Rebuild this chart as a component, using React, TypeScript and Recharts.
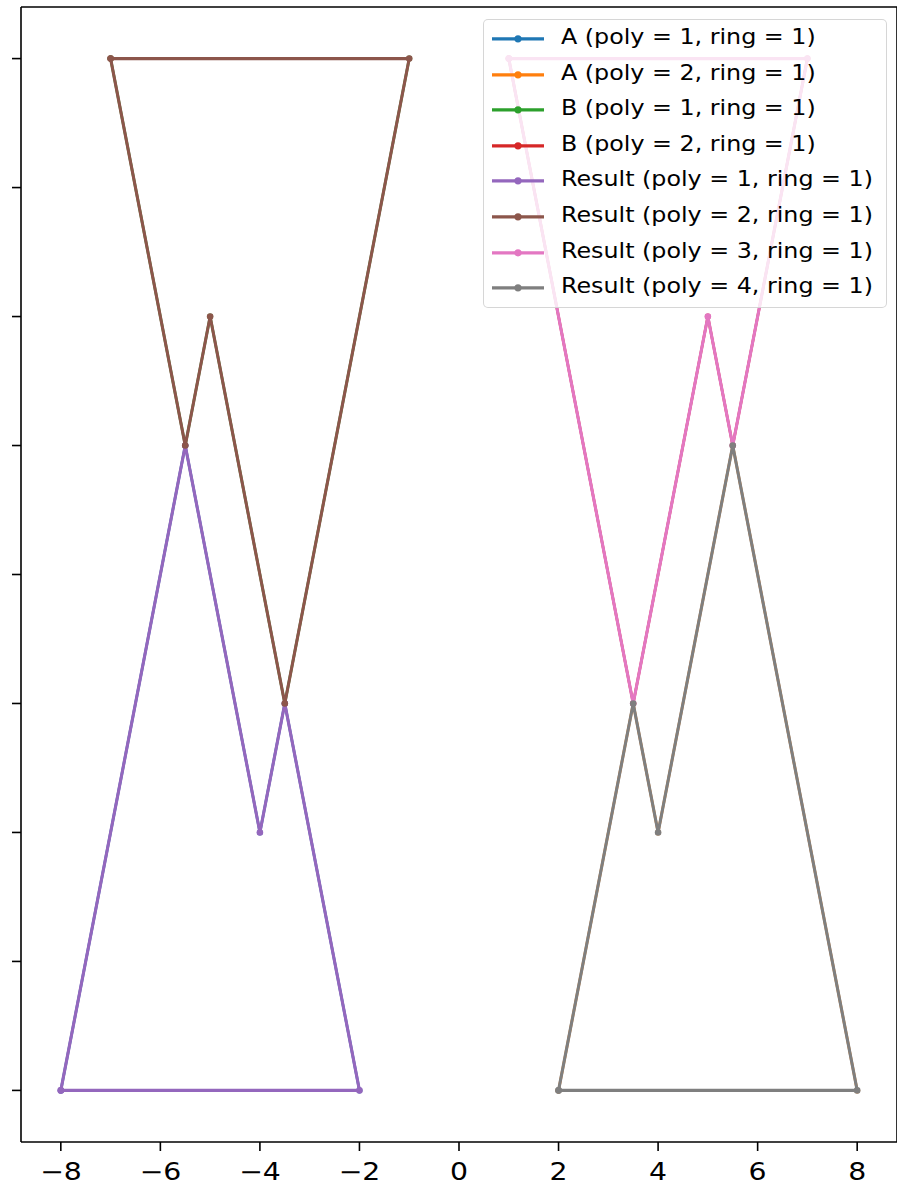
import React from 'react';
import { Legend, ReferenceLine, Scatter, ScatterChart, XAxis, YAxis } from 'recharts';

const xTicks = [-8, -6, -4, -2, 0, 2, 4, 6, 8];
const yTicks = [0, 1, 2, 3, 4, 5, 6, 7, 8];

// polygon rings, first point repeated at the end to close them
const aPoly1 = [
  { x: -8, y: 0 }, { x: -5.5, y: 5 }, { x: -4, y: 2 }, { x: -3.5, y: 3 }, { x: -2, y: 0 }, { x: -8, y: 0 },
];
const aPoly2 = [
  { x: 2, y: 0 }, { x: 3.5, y: 3 }, { x: 4, y: 2 }, { x: 5.5, y: 5 }, { x: 8, y: 0 }, { x: 2, y: 0 },
];
const bPoly1 = [
  { x: -7, y: 8 }, { x: -1, y: 8 }, { x: -3.5, y: 3 }, { x: -5, y: 6 }, { x: -5.5, y: 5 }, { x: -7, y: 8 },
];
const bPoly2 = [
  { x: 1, y: 8 }, { x: 7, y: 8 }, { x: 5.5, y: 5 }, { x: 5, y: 6 }, { x: 3.5, y: 3 }, { x: 1, y: 8 },
];
const resultPoly1 = [
  { x: -8, y: 0 }, { x: -5.5, y: 5 }, { x: -4, y: 2 }, { x: -3.5, y: 3 }, { x: -2, y: 0 }, { x: -8, y: 0 },
];
const resultPoly2 = [
  { x: -7, y: 8 }, { x: -1, y: 8 }, { x: -3.5, y: 3 }, { x: -5, y: 6 }, { x: -5.5, y: 5 }, { x: -7, y: 8 },
];
const resultPoly3 = [
  { x: 1, y: 8 }, { x: 7, y: 8 }, { x: 5.5, y: 5 }, { x: 5, y: 6 }, { x: 3.5, y: 3 }, { x: 1, y: 8 },
];
const resultPoly4 = [
  { x: 2, y: 0 }, { x: 3.5, y: 3 }, { x: 4, y: 2 }, { x: 5.5, y: 5 }, { x: 8, y: 0 }, { x: 2, y: 0 },
];

const series = [
  { name: 'A (poly = 1, ring = 1)', data: aPoly1, color: '#1f77b4', under: true },
  { name: 'A (poly = 2, ring = 1)', data: aPoly2, color: '#ff7f0e', under: true },
  { name: 'B (poly = 1, ring = 1)', data: bPoly1, color: '#2ca02c', under: true },
  { name: 'B (poly = 2, ring = 1)', data: bPoly2, color: '#d62728', under: true },
  { name: 'Result (poly = 1, ring = 1)', data: resultPoly1, color: '#9467bd', under: false },
  { name: 'Result (poly = 2, ring = 1)', data: resultPoly2, color: '#8c564b', under: false },
  { name: 'Result (poly = 3, ring = 1)', data: resultPoly3, color: '#e377c2', under: false },
  { name: 'Result (poly = 4, ring = 1)', data: resultPoly4, color: '#7f7f7f', under: false },
];

const FONT = 'DejaVu Sans';

const fmt = (v: number) => (v < 0 ? '\u2212' + Math.abs(v) : String(v));

const XTick = (props: any) => {
  const { x, y, payload } = props;
  return (
    <text
      x={x}
      y={y + 27}
      textAnchor="middle"
      fontFamily={FONT}
      fontSize={24}
      fill="#000"
      transform={`translate(${x} 0) scale(1.18 1) translate(${-x} 0)`}
    >
      {fmt(payload.value)}
    </text>
  );
};

const makeDot = (color: string, r: number) => (props: any) => (
  <circle cx={props.cx} cy={props.cy} r={r} fill={color} />
);

const LegendBox = () => (
  <div
    style={{
      boxSizing: 'border-box',
      width: 404,
      height: 289,
      padding: '1px 0',
      border: '1.5px solid rgba(204,204,204,0.8)',
      borderRadius: 5,
      background: 'rgba(255,255,255,0.8)',
      fontFamily: FONT,
      fontSize: 20.5,
      color: '#000',
    }}
  >
    {series.map((s) => (
      <div key={s.name} style={{ position: 'relative', height: 35.6 }}>
        <svg width={52} height={35.6} style={{ position: 'absolute', left: 8, top: 0 }}>
          <line x1={0} x2={52} y1={17.8} y2={17.8} stroke={s.color} strokeWidth={3.2} />
          <circle cx={26} cy={17.8} r={3.6} fill={s.color} />
        </svg>
        <span
          style={{
            position: 'absolute',
            left: 77,
            top: -1,
            lineHeight: '35.6px',
            whiteSpace: 'nowrap',
            transform: 'scaleX(1.16)',
            transformOrigin: 'left center',
          }}
        >
          {s.name}
        </span>
      </div>
    ))}
  </div>
);

const App = () => {
  return (
    <div style={{ position: 'absolute', left: 0, top: 0, width: 897, height: 1187, background: '#fff' }}>
      <ScatterChart width={897} height={1187} margin={{ top: 7, right: 0, bottom: 0, left: 0 }}>
        <XAxis
          type="number"
          dataKey="x"
          domain={[-8.8, 8.8]}
          ticks={xTicks}
          allowDataOverflow
          height={45}
          tickSize={9}
          tick={<XTick />}
          axisLine={{ stroke: '#000', strokeWidth: 1.6 }}
          tickLine={{ stroke: '#000', strokeWidth: 1.6 }}
        />
        <YAxis
          type="number"
          dataKey="y"
          domain={[-0.4, 8.4]}
          ticks={yTicks}
          allowDataOverflow
          width={21}
          tickSize={9}
          tick={() => <g />}
          axisLine={{ stroke: '#000', strokeWidth: 1.6 }}
          tickLine={{ stroke: '#000', strokeWidth: 1.6 }}
        />
        <ReferenceLine y={8.4} stroke="#000" strokeWidth={1.6} />
        <ReferenceLine x={8.8} stroke="#000" strokeWidth={1.6} />
        {series.map((s) => (
          <Scatter
            key={s.name}
            name={s.name}
            data={s.data}
            fill={s.color}
            line={{ stroke: s.color, strokeWidth: s.under ? 2.7 : 3.1 }}
            lineType="joint"
            shape={makeDot(s.color, s.under ? 3 : 3.3)}
            isAnimationActive={false}
          />
        ))}
        <Legend
          layout="vertical"
          align="center"
          verticalAlign="middle"
          wrapperStyle={{ top: 19, left: 483, width: 404 }}
          content={() => <LegendBox />}
        />
      </ScatterChart>
    </div>
  );
};

export default App;
